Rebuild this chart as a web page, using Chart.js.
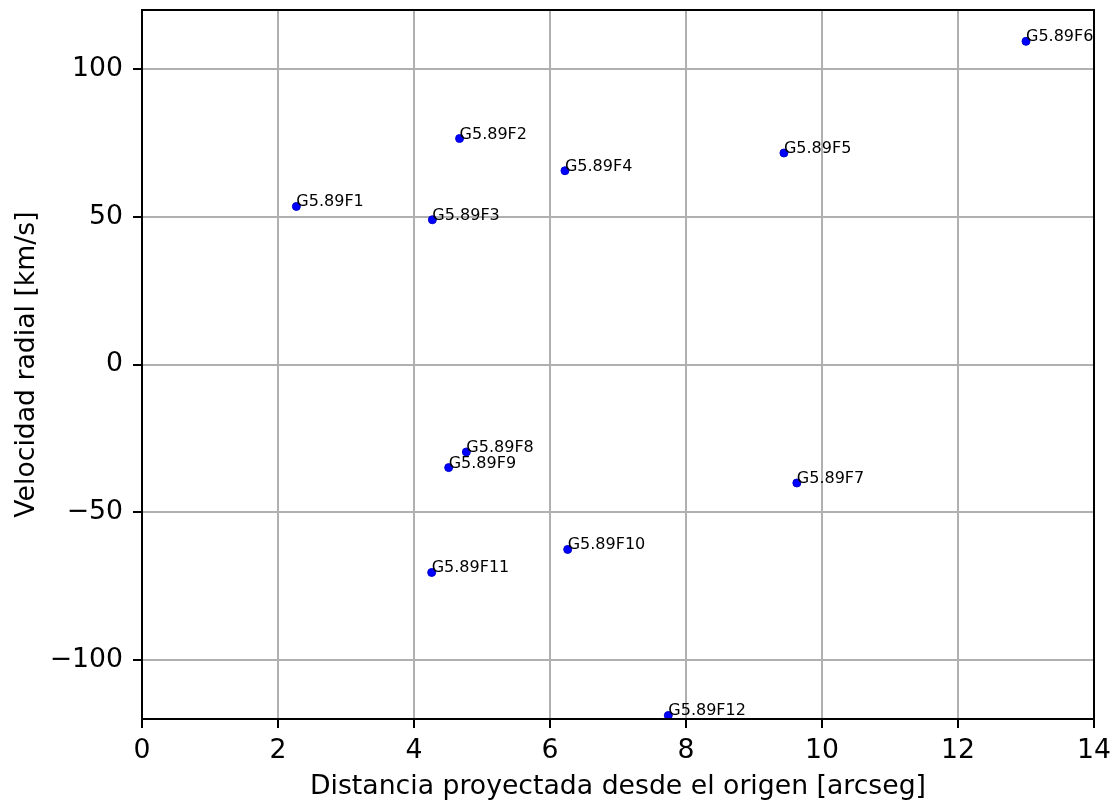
<!DOCTYPE html>
<html lang="es">
<head>
<meta charset="UTF-8">
<title>Velocidad radial</title>
<script src="https://cdn.jsdelivr.net/npm/chart.js"></script>
<style>
  html, body { margin: 0; padding: 0; background: #fff; }
  #wrap { width: 1118px; height: 806px; }
</style>
</head>
<body>
<div id="wrap"><canvas id="grafico"></canvas></div>
<script>
    const nombres = ['G5.89F1', 'G5.89F2', 'G5.89F3', 'G5.89F4', 'G5.89F5', 'G5.89F6',
        'G5.89F7', 'G5.89F8', 'G5.89F9', 'G5.89F10', 'G5.89F11', 'G5.89F12'];
    const distancia = [2.27, 4.67, 4.27, 6.22, 9.44, 13.0, 9.63, 4.77, 4.51, 6.26, 4.26, 7.74];
    const velocidad = [53.5, 76.5, 49.0, 65.6, 71.6, 109.4, -40.1, -29.6, -34.9, -62.6, -70.4, -118.8];

    const xTicks = [0, 2, 4, 6, 8, 10, 12, 14];
    const yTicks = [-100, -50, 0, 50, 100];

    const fuente = 'DejaVu Sans';
    const tam = 26.7;

    // etiquetas de cada punto
    const etiquetas = {
        id: 'etiquetas',
        afterDatasetsDraw(chart) {
            const ctx = chart.ctx;
            const meta = chart.getDatasetMeta(0);
            ctx.save();
            ctx.font = '16px "' + fuente + '"';
            ctx.fillStyle = 'black';
            ctx.textAlign = 'left';
            ctx.textBaseline = 'alphabetic';
            meta.data.forEach((p, i) => {
                ctx.fillText(nombres[i], p.x, p.y);
            });
            ctx.restore();
        }
    };

    // marco completo
    const marco = {
        id: 'marco',
        afterDraw(chart) {
            const a = chart.chartArea;
            const ctx = chart.ctx;
            ctx.save();
            ctx.strokeStyle = 'black';
            ctx.lineWidth = 2;
            ctx.strokeRect(a.left, a.top, a.right - a.left, a.bottom - a.top);
            ctx.restore();
        }
    };

    const menos = v => String(v).replace('-', '\u2212');

    new Chart(document.getElementById('grafico'), {
        type: 'scatter',
        data: {
            datasets: [{
                data: distancia.map((x, i) => ({ x: x, y: velocidad[i] })),
                backgroundColor: '#0000ff',
                borderColor: '#0000cc',
                borderWidth: 1,
                pointRadius: 4
            }]
        },
        options: {
            responsive: true,
            maintainAspectRatio: false,
            animation: false,
            layout: { padding: { top: 10, right: 24, left: 0, bottom: 0 } },
            plugins: {
                legend: { display: false },
                tooltip: { enabled: false }
            },
            scales: {
                x: {
                    type: 'linear',
                    min: 0,
                    max: 14,
                    afterFit(s) { s.height = 87; s.paddingLeft = 0; s.paddingRight = 0; },
                    afterBuildTicks(s) { s.ticks = xTicks.map(v => ({ value: v })); },
                    grid: { color: '#b0b0b0', lineWidth: 2, tickColor: 'black', tickLength: 9, tickWidth: 2 },
                    border: { color: 'black', width: 2 },
                    ticks: {
                        color: 'black',
                        font: { family: fuente, size: tam },
                        padding: 7,
                        maxRotation: 0,
                        callback: v => menos(v)
                    },
                    title: {
                        display: true,
                        text: 'Distancia proyectada desde el origen [arcseg]',
                        color: 'black',
                        font: { family: fuente, size: tam },
                        padding: { top: 0, bottom: 3 }
                    }
                },
                y: {
                    type: 'linear',
                    min: -120,
                    max: 120,
                    afterFit(s) { s.width = 142; s.paddingTop = 0; s.paddingBottom = 0; },
                    afterBuildTicks(s) { s.ticks = yTicks.map(v => ({ value: v })); },
                    grid: { color: '#b0b0b0', lineWidth: 2, tickColor: 'black', tickLength: 9, tickWidth: 2 },
                    border: { color: 'black', width: 2 },
                    ticks: {
                        color: 'black',
                        font: { family: fuente, size: tam },
                        padding: 10,
                        callback: v => menos(v)
                    },
                    title: {
                        display: true,
                        text: 'Velocidad radial [km/s]',
                        color: 'black',
                        font: { family: fuente, size: tam },
                        padding: { top: 11, bottom: 0 }
                    }
                }
            }
        },
        plugins: [etiquetas, marco]
    });
</script>
</body>
</html>
